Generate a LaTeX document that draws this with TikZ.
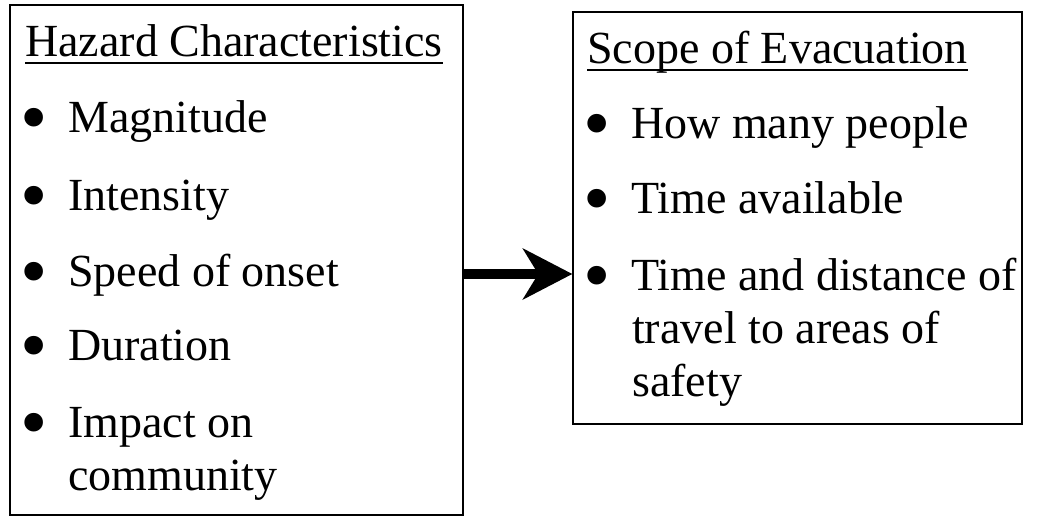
\documentclass[tikz,border=0pt]{standalone}
\usepackage{fontspec}
\setmainfont{Liberation Serif}
\usetikzlibrary{arrows.meta}

\newcommand{\bul}{\makebox[43pt][l]{\hspace*{-5pt}\raisebox{-11pt}{\fontsize{78pt}{0pt}\selectfont •}}}
\newcommand{\ulbox}[1]{\setbox0\hbox{#1}\rlap{\rule[-7.5pt]{\wd0}{2pt}}\box0}

\tikzset{
  box/.style={draw, line width=1.5pt, inner sep=0pt},
  item/.style={anchor=base west, inner sep=0pt, font=\fontsize{46pt}{53pt}\selectfont},
}

\begin{document}
\begin{tikzpicture}[x=1pt,y=-1pt]
            \useasboundingbox (0,0) rectangle (1042,520);

            \node (hazbox) at (236.5,260) [box, minimum width=453pt, minimum height=510pt] {};
            \node (scopebox) at (797.5,218) [box, minimum width=449pt, minimum height=412pt] {};

            \node (haztitle) at (25,56) [item] {\ulbox{Hazard Characteristics}};
            \node (mag) at (25,132) [item] {\bul Magnitude};
            \node (inten) at (25,210) [item] {\bul Intensity};
            \node (speed) at (25,286) [item] {\bul Speed of onset};
            \node (dur) at (25,360) [item] {\bul Duration};
            \node (impact) at (25,437) [item] {\bul Impact on};
            \node (comm) at (68,490) [item] {community};

            \node (scopetitle) at (587,63) [item] {\ulbox{Scope of Evacuation}};
            \node (people) at (588,138) [item] {\bul How many people};
            \node (avail) at (588,213) [item] {\bul Time available};
            \node (dist) at (588,290) [item] {\bul Time and distance of};
            \node (travel) at (632,343) [item] {travel to areas of};
            \node (safety) at (632,396) [item] {safety};

            \coordinate (arrowy) at (0,274);
            \draw [line width=10pt, -{Stealth[length=50pt,width=52pt,inset=16pt,line width=0pt]}]
            (hazbox.east |- arrowy) -- (scopebox.west |- arrowy);

        \end{tikzpicture}
\end{document}
